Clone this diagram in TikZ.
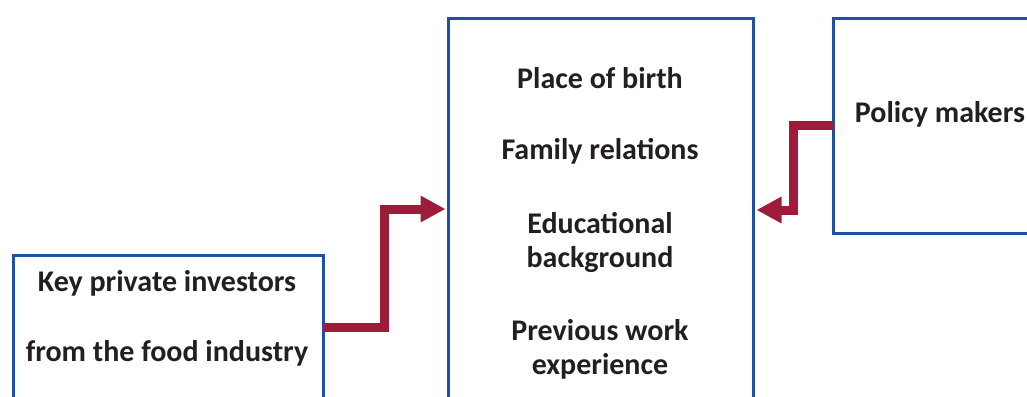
\documentclass[tikz,border=0pt]{standalone}
\usepackage{fontspec}
\setmainfont{Carlito}
\usetikzlibrary{arrows.meta}
\definecolor{boxblue}{RGB}{30,80,165}
\definecolor{arrowred}{RGB}{158,27,58}
\definecolor{txt}{RGB}{35,31,32}
\tikzset{
  box/.style={draw=boxblue, line width=3pt, fill=white, rectangle, inner sep=0pt},
  lbl/.style={font=\bfseries\fontsize{30}{34}\selectfont, text=txt, inner sep=0pt, anchor=base},
  conn/.style={draw=arrowred, line width=9pt, -{Triangle[length=25pt,width=25pt]}}
}
\begin{document}
\begin{tikzpicture}[x=1pt,y=-1pt]
\useasboundingbox (0,0) rectangle (1027,396);
\clip (0,0) rectangle (1027,396);
\node[box, minimum width=310pt, minimum height=200pt, anchor=north west] (lbox) at (12,254) {};
\node[box, minimum width=305pt, minimum height=420pt, anchor=north west] (cbox) at (447,17) {};
\node[box, minimum width=260pt, minimum height=215pt, anchor=north west] (rbox) at (832,17) {};
% labels
\node[lbl] (t1) at (600,88) {Place of birth};
\node[lbl] (t2) at (600,159) {Family relations};
\node[lbl] (t3) at (600,233) {Educational};
\node[lbl] (t4) at (600,267) {background};
\node[lbl] (t5) at (600,340) {Previous work};
\node[lbl] (t6) at (600,374) {experience};
\node[lbl] (k1) at (167,291) {Key private investors};
\node[lbl] (k2) at (167,361) {from the food industry};
\node[lbl] (p1) at (940,122) {Policy makers};
% connectors
\draw[conn] ([xshift=-1.5pt]lbox.east |- 0,327) -- (384,327) |- ([xshift=-1.5pt]cbox.west |- 0,209);
\draw[conn] ([xshift=1.5pt]rbox.west |- 0,125) -- (793,125) |- ([xshift=1.5pt]cbox.east |- 0,210);
\end{tikzpicture}
\end{document}
